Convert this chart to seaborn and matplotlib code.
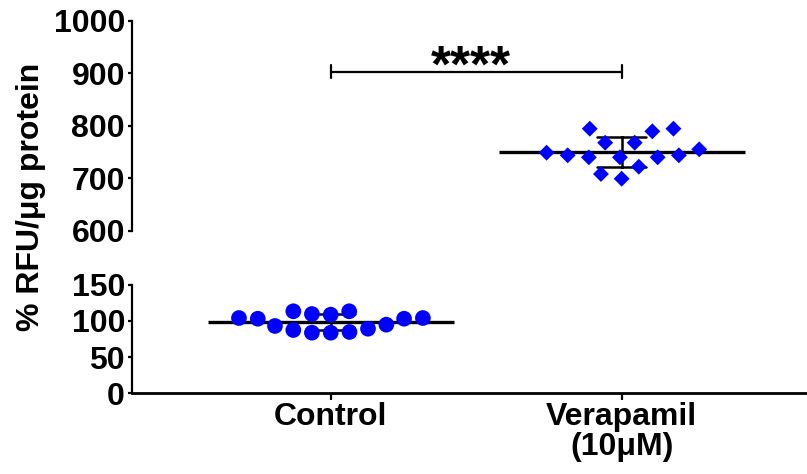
import numpy as np
import pandas as pd
import matplotlib
matplotlib.use("Agg")
import matplotlib.pyplot as plt
import seaborn as sns

# ---- data ----
categories = ["Control", "Verapamil\n(10μM)"]
control_values = [103, 104, 84.7, 94.8, 109.5, 87.4, 113.3, 93, 103, 83.7,
                  108.6, 89.2, 104, 83.7, 113.3]
verapamil_values = [755, 767.6, 739.8, 794.3, 743.6, 699, 794.3, 748.6, 721.9,
                    789.3, 739.8, 708, 767.6, 739.8, 743.6]
top_ticks = [600, 700, 800, 900, 1000]
bottom_ticks = [0, 50, 100, 150]
ylabel = "% RFU/μg protein"
sig_label = "****"

df = pd.DataFrame({
    "group": [categories[0]] * len(control_values) + [categories[1]] * len(verapamil_values),
    "value": control_values + verapamil_values,
})
df_ctrl = df[df["group"] == categories[0]]
df_vera = df[df["group"] == categories[1]]

sns.set_theme(style="ticks")
plt.rcParams["font.family"] = ["Liberation Sans", "DejaVu Sans"]
plt.rcParams["font.weight"] = "bold"
for k in ["text.color", "axes.labelcolor", "xtick.color", "ytick.color",
          "axes.edgecolor", "xtick.labelcolor", "ytick.labelcolor"]:
    plt.rcParams[k] = "black"

W, H = 807, 474
fig = plt.figure(figsize=(W / 100, H / 100), dpi=100)


def rect(l, t, r, b):
    return [l / W, 1 - b / H, (r - l) / W, (b - t) / H]


ax_top = fig.add_axes(rect(132, 20.7, 807, 230.7))
ax_bot = fig.add_axes(rect(132, 284.7, 807, 393.3))

blue = "#0000FF"
FS = 23
xlim = (-0.683, 1.637)

# (axes, data, marker, marker size, collision spacing, y range)
for ax, sub, marker, msize, gap, ylim in [
    (ax_bot, df_ctrl, "o", 11.3, 1.6, (0, 150)),
    (ax_top, df_vera, "D", 8.1, 6.5, (600, 1000)),
]:
    sns.pointplot(data=sub, x="group", y="value", order=categories, ax=ax,
                  errorbar="sd", capsize=0.17, markers="_", linestyles="none",
                  color="black", markersize=177, markeredgewidth=2.4,
                  err_kws={"linewidth": 1.8})
    sns.swarmplot(data=sub, x="group", y="value", order=categories, ax=ax,
                  color=blue, marker=marker, size=msize, linewidth=gap,
                  edgecolor="none", zorder=5, warn_thresh=1.0)
    ax.set_xlim(*xlim)
    ax.set_ylim(*ylim)
    ax.set_xlabel("")
    ax.set_ylabel("")
    for s in ["top", "right"]:
        ax.spines[s].set_visible(False)
    ax.spines["left"].set_linewidth(1.6)
    ax.tick_params(axis="y", length=3, width=1.6, pad=2, labelsize=FS)

ax_top.set_yticks(top_ticks)
ax_bot.set_yticks(bottom_ticks)
ax_top.set_yticklabels([str(t) for t in top_ticks], fontsize=FS, fontweight="bold")
ax_bot.set_yticklabels([str(t) for t in bottom_ticks], fontsize=FS, fontweight="bold")

ax_top.spines["bottom"].set_visible(False)
ax_top.tick_params(axis="x", bottom=False, labelbottom=False)

ax_bot.spines["bottom"].set_linewidth(2)
ax_bot.set_xticks([0, 1])
ax_bot.set_xticklabels(categories, fontsize=FS, fontweight="bold", linespacing=1.0)
ax_bot.tick_params(axis="x", length=5, width=1.6, pad=1.5)

# significance bracket
by = 903
cap = 13
ax_top.plot([0, 1], [by, by], color="black", lw=1.6, clip_on=False)
ax_top.plot([0, 0], [by - cap, by + cap], color="black", lw=1.6, clip_on=False)
ax_top.plot([1, 1], [by - cap, by + cap], color="black", lw=1.6, clip_on=False)
ax_top.text(0.48, 884, sig_label, ha="center", va="baseline", fontsize=37,
            fontweight="bold", color="black", clip_on=False)

fig.text(31 / W, 1 - 196.5 / H, ylabel, rotation=90, ha="center", va="center",
         fontsize=FS, fontweight="bold")

fig.savefig("out.png", dpi=100, facecolor="white")
